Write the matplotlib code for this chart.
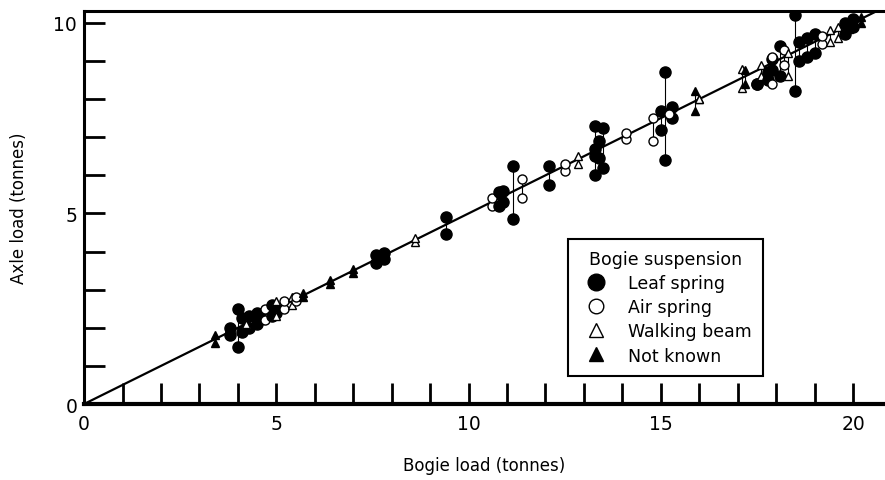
import numpy as np
import matplotlib
matplotlib.use('Agg')
import matplotlib.pyplot as plt
from matplotlib.lines import Line2D

plt.rcParams['font.family'] = ['DejaVu Sans']

# each bogie: bogie load, the two axle loads, suspension type
bogie_load = [3.4, 3.8, 4.0, 4.1, 4.3, 4.2, 4.5, 4.6, 4.7, 4.9, 5.0, 5.0, 5.2, 5.4, 5.5, 5.7,
              6.4, 7.0, 7.6, 7.8, 8.6, 9.4, 10.6, 10.8, 10.9, 11.15, 11.4, 12.1, 12.5, 12.85,
              13.3, 13.5, 13.3, 13.4, 14.1, 14.8, 15.1, 15.0, 15.3, 15.2, 15.9, 16.0,
              17.1, 17.2, 17.5, 17.6, 17.8, 17.9, 17.9, 18.1, 18.2, 18.3, 18.5, 18.6, 18.8,
              19.0, 19.2, 19.4, 19.6, 19.8, 20.0, 20.2, 19.9]
axle_hi = [1.8, 2.0, 2.5, 2.25, 2.3, 2.1, 2.4, 2.4, 2.5, 2.6, 2.5, 2.7, 2.7, 2.8, 2.8, 2.9,
           3.25, 3.55, 3.9, 3.95, 4.35, 4.9, 5.4, 5.55, 5.6, 6.25, 5.9, 6.25, 6.3, 6.5,
           7.3, 7.25, 6.7, 6.9, 7.1, 7.5, 8.7, 7.7, 7.8, 7.6, 8.2, 8.0,
           8.8, 8.75, 8.4, 8.9, 8.7, 9.05, 9.1, 9.4, 9.3, 9.2, 10.2, 9.5, 9.6,
           9.7, 9.65, 9.8, 9.9, 10.0, 10.1, 10.15, 9.95]
axle_lo = [1.6, 1.8, 1.5, 1.9, 2.0, 2.1, 2.1, 2.2, 2.2, 2.3, 2.4, 2.3, 2.5, 2.6, 2.7, 2.8,
           3.15, 3.45, 3.7, 3.8, 4.25, 4.45, 5.2, 5.2, 5.3, 4.85, 5.4, 5.75, 6.1, 6.3,
           6.0, 6.2, 6.5, 6.45, 6.95, 6.9, 6.4, 7.2, 7.5, 7.6, 7.7, 8.0,
           8.3, 8.4, 8.4, 8.6, 8.5, 8.75, 8.4, 8.6, 8.9, 8.6, 8.2, 9.0, 9.1,
           9.2, 9.45, 9.5, 9.6, 9.7, 9.9, 10.0, 9.85]
suspension = ['N', 'L', 'L', 'L', 'L', 'W', 'L', 'N', 'A', 'L', 'L', 'W', 'A', 'W', 'A', 'N',
              'N', 'N', 'L', 'L', 'W', 'L', 'A', 'L', 'L', 'L', 'A', 'L', 'A', 'W',
              'L', 'L', 'L', 'L', 'A', 'A', 'L', 'L', 'L', 'A', 'N', 'W',
              'W', 'N', 'L', 'W', 'L', 'L', 'A', 'L', 'A', 'W', 'L', 'L', 'L',
              'L', 'A', 'W', 'W', 'L', 'L', 'N', 'N']

styles = {
    'L': dict(marker='o', ms=8, mfc='black', label='Leaf spring'),
    'A': dict(marker='o', ms=6.5, mfc='white', label='Air spring'),
    'W': dict(marker='^', ms=6, mfc='white', label='Walking beam'),
    'N': dict(marker='^', ms=6, mfc='black', label='Not known'),
}

fig = plt.figure(figsize=(8.85, 4.81), dpi=100)
ax = fig.add_axes([0.095, 0.158, 0.905, 0.817])

xmax, ymax = 20.83, 10.31
ax.plot([0, xmax], [0, xmax / 2], color='black', lw=1.6, zorder=2)

for x, hi, lo, s in zip(bogie_load, axle_hi, axle_lo, suspension):
    ax.plot([x, x], [lo, hi], color='black', lw=0.8, zorder=3)
    st = styles[s]
    ax.plot([x, x], [lo, hi], linestyle='none', marker=st['marker'], ms=st['ms'],
            mfc=st['mfc'], mec='black', mew=1.0, zorder=4)

ax.set_xlim(0, xmax)
ax.set_ylim(0, ymax)
ax.set_xticks(np.arange(0, 21, 1))
ax.set_xticklabels([str(i) if i % 5 == 0 else '' for i in range(21)])
ax.set_yticks(np.arange(0, 11, 1))
ax.set_yticklabels([str(i) if i % 5 == 0 else '' for i in range(11)])
ax.tick_params(direction='in', length=15, width=2, labelsize=13.5, pad=7)
ax.tick_params(axis='y', pad=5)

for side in ['left', 'top']:
    ax.spines[side].set_linewidth(2.2)
ax.spines['bottom'].set_linewidth(3)
ax.spines['right'].set_visible(False)

ax.set_xlabel('Bogie load (tonnes)', fontsize=12, labelpad=17)
ax.set_ylabel('Axle load (tonnes)', fontsize=12, labelpad=18)

handles = [Line2D([], [], linestyle='none', marker=styles[k]['marker'], ms=styles[k]['ms'] + 4,
                  mfc=styles[k]['mfc'], mec='black', mew=1.0, label=styles[k]['label'])
           for k in ['L', 'A', 'W', 'N']]
leg = ax.legend(handles=handles, title='Bogie suspension', loc='upper left',
                bbox_to_anchor=(0.604, 0.42), fontsize=12.5, title_fontsize=12.5,
                frameon=True, fancybox=False, framealpha=1, handletextpad=0.8,
                borderpad=0.65, labelspacing=0.35, borderaxespad=0)
leg.get_frame().set_edgecolor('black')
leg.get_frame().set_linewidth(1.5)
leg.set_zorder(5)

fig.savefig('out.png', dpi=100)
